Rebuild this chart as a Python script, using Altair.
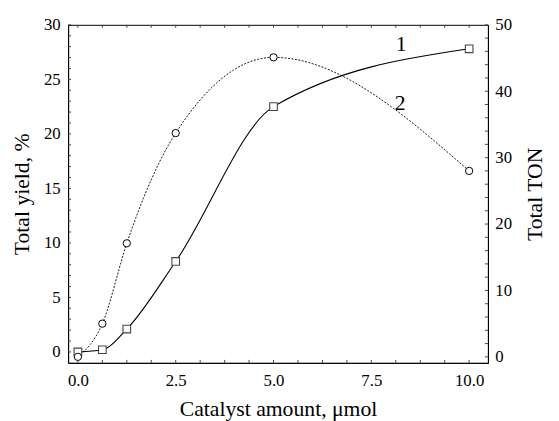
import altair as alt
import pandas as pd

# Data
catalyst = [0.0, 0.625, 1.25, 2.5, 5.0, 10.0]
yield_pct = [0.0, 0.2, 2.1, 8.3, 22.5, 27.8]      # curve 1 (squares, left axis)
ton = [0.0, 5.0, 17.1, 33.7, 45.1, 28.0]          # curve 2 (circles, right axis)

x_ticks = [0.0, 2.5, 5.0, 7.5, 10.0]
x_minor = [i * 0.625 for i in range(17)]
yl_ticks = [0, 5, 10, 15, 20, 25, 30]
yl_minor = list(range(0, 31))
yr_ticks = [0, 10, 20, 30, 40, 50]
yr_minor = list(range(0, 51, 2))

label_text = ["1", "2"]
label_x = [8.26, 8.24]
label_y = [28.2, 22.8]

W, H = 426, 343
FONT = "Liberation Serif"
XDOM = [-0.25, 10.48]
YL = [-1.0, 30.0]
YR = [-0.9, 50.0]

df = pd.DataFrame({"x": catalyst, "yield": yield_pct, "ton": ton})
xs = alt.Scale(domain=XDOM, nice=False, zero=False)
yls = alt.Scale(domain=YL, nice=False, zero=False)
yrs = alt.Scale(domain=YR, nice=False, zero=False)

xaxis = alt.Axis(values=x_ticks, format=".1f", title="Catalyst amount, \u03bcmol",
                 labelPadding=10, titlePadding=10)

def X(field):
    return alt.X(field, scale=xs, axis=xaxis)

line1 = alt.Chart(df).mark_line(color="black", strokeWidth=1.1, interpolate="monotone").encode(
    x=X("x:Q"),
    y=alt.Y("yield:Q", scale=yls, axis=alt.Axis(
        values=yl_ticks, format="d", title="Total yield, %", orient="left",
        labelPadding=8, titlePadding=10)),
)
pts1 = alt.Chart(df).mark_point(shape="square", size=60, filled=True, fill="white",
                                 stroke="#444", strokeWidth=1.1, opacity=1).encode(
    x=X("x:Q"),
    y=alt.Y("yield:Q", scale=yls, axis=None),
)

line2 = alt.Chart(df).mark_line(color="black", strokeWidth=0.9, strokeDash=[2, 1.5],
                                interpolate="monotone").encode(
    x=X("x:Q"),
    y=alt.Y("ton:Q", scale=yrs, axis=alt.Axis(
        values=yr_ticks, format="d", title="Total TON", orient="right",
        labelPadding=7, titlePadding=13, titleAngle=270, titleBaseline="top")),
)
pts2 = alt.Chart(df).mark_point(shape="circle", size=55, filled=True, fill="white",
                                 stroke="black", strokeWidth=1, opacity=1).encode(
    x=X("x:Q"),
    y=alt.Y("ton:Q", scale=yrs, axis=None),
)

lab_df = pd.DataFrame({"t": label_text, "x": label_x, "y": label_y})
labels = alt.Chart(lab_df).mark_text(font=FONT, fontSize=22, color="black",
                                      align="center", baseline="middle").encode(
    x=X("x:Q"),
    y=alt.Y("y:Q", scale=yls, axis=None),
    text="t:N",
)

TL = 3
TC = "#444"
xm = pd.DataFrame({"v": x_minor})
xt_bot = alt.Chart(xm).mark_rule(color=TC, strokeWidth=1).encode(
    x=X("v:Q"), y=alt.value(H), y2=alt.value(H - TL))
xt_top = alt.Chart(xm).mark_rule(color=TC, strokeWidth=1).encode(
    x=X("v:Q"), y=alt.value(0), y2=alt.value(TL))
ylm = pd.DataFrame({"v": yl_minor})
yl_t = alt.Chart(ylm).mark_rule(color=TC, strokeWidth=1).encode(
    y=alt.Y("v:Q", scale=yls, axis=None), x=alt.value(0), x2=alt.value(TL))
yrm = pd.DataFrame({"v": yr_minor})
yr_t = alt.Chart(yrm).mark_rule(color=TC, strokeWidth=1).encode(
    y=alt.Y("v:Q", scale=yrs, axis=None), x=alt.value(W), x2=alt.value(W - TL))

chart = alt.layer(
    line1, line2, pts1, pts2, labels, xt_bot, xt_top, yl_t, yr_t
).resolve_scale(y="independent").properties(
    width=W, height=H,
    padding={"left": 3, "top": 5, "right": 6, "bottom": 3},
).configure_view(stroke="black", strokeWidth=1).configure_axis(
    domainWidth=1, domainColor="black", ticks=False, grid=False,
    labelFont=FONT, labelFontSize=17, labelColor="black",
    titleFont=FONT, titleFontSize=22, titleFontWeight="normal", titleColor="black",
)

chart.save("out.html", embed_options={"renderer": "svg", "actions": False})
